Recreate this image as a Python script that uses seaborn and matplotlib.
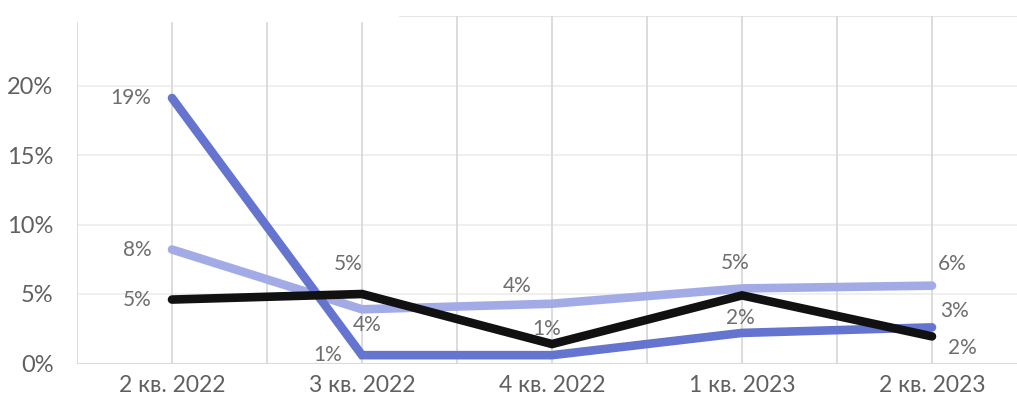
import numpy as np
import pandas as pd
import matplotlib
matplotlib.use("Agg")
import matplotlib.pyplot as plt
import seaborn as sns

# Quarterly shares, per cent
quarters = ["2 кв. 2022", "3 кв. 2022", "4 кв. 2022", "1 кв. 2023", "2 кв. 2023"]
series_names = ["Серия 1", "Серия 2", "Серия 3"]
series_1 = [19.1, 0.6, 0.6, 2.2, 2.6]   # blue
series_2 = [8.2, 3.9, 4.3, 5.4, 5.6]    # light lavender
series_3 = [4.6, 5.0, 1.4, 4.9, 1.95]   # black
y_ticks = [0, 5, 10, 15, 20]

colors = {"Серия 1": "#6474cf", "Серия 2": "#a3abe6", "Серия 3": "#111111"}

# label placement (pixel offsets from each point); None = no label drawn
label_offsets = {
    "Серия 1": [(-41, 0), (-34, 0), None, (-2, 15), (23, 16)],
    "Серия 2": [(-35, 0), (5, -16), (-35, 18), (-7, 25), (20, 22)],
    "Серия 3": [(-35, 0), (-14, 30), (-5, 15), None, (30, -12)],
}

df = pd.DataFrame({
    "quarter": quarters * 3,
    "series": np.repeat(series_names, len(quarters)),
    "value": series_1 + series_2 + series_3,
})

sns.set_theme(style="white")
plt.rcParams["font.family"] = ["Lato", "DejaVu Sans"]

W, H = 1017, 399
fig = plt.figure(figsize=(W / 100, H / 100), dpi=100)
ax_left, ax_right, ax_top, ax_bottom = 77, 1027, 16, 363.5
ax = fig.add_axes([ax_left / W, 1 - ax_bottom / H,
                   (ax_right - ax_left) / W, (ax_bottom - ax_top) / H])

draw_order = ["Серия 2", "Серия 1", "Серия 3"]
for name in draw_order:
    sub = df[df["series"] == name]
    sns.lineplot(data=sub, x="quarter", y="value", color=colors[name],
                 linewidth=6.2, ax=ax, sort=False, legend=False,
                 solid_capstyle="round", solid_joinstyle="miter", zorder=3)

ax.set_xlim(-0.5, 4.5)
ax.set_ylim(0, 25)

# grid: horizontal every 5 %, vertical at each category and midway between
for y in [5, 10, 15, 20]:
    ax.axhline(y, color="#ececec", linewidth=1.2, zorder=1)
ax.axhline(25, color="#e6e6e6", linewidth=1.5, zorder=1)
ax.axhline(0, color="#dadada", linewidth=1.5, zorder=1)
for xv in np.arange(-0.5, 4.6, 0.5):
    ax.axvline(xv, color="#d6d6d6", linewidth=1.2, zorder=1)

for s in ax.spines.values():
    s.set_visible(False)

ax.set_yticks(y_ticks)
ax.set_yticklabels([f"{v}%" for v in y_ticks], fontsize=17, color="#606060")
ax.set_xticks(range(len(quarters)))
ax.set_xticklabels(quarters, fontsize=16.5, color="#606060")
ax.tick_params(axis="y", length=0, pad=17)
ax.tick_params(axis="x", length=0, pad=8)
ax.set_xlabel("")
ax.set_ylabel("")

values = {"Серия 1": series_1, "Серия 2": series_2, "Серия 3": series_3}
for name in series_names:
    for i, v in enumerate(values[name]):
        off = label_offsets[name][i]
        if off is None:
            continue
        ax.annotate(f"{int(round(v))}%", xy=(i, v), xytext=off,
                    textcoords="offset pixels", ha="center", va="center",
                    fontsize=15, color="#6e6e6e", zorder=5)

# blank band across the top-left corner
fig.patches.append(plt.Rectangle((0, 1 - 21 / H), 398 / W, 21 / H,
                                 transform=fig.transFigure, color="white",
                                 zorder=10))

fig.savefig("out.png", dpi=100, facecolor="white")
